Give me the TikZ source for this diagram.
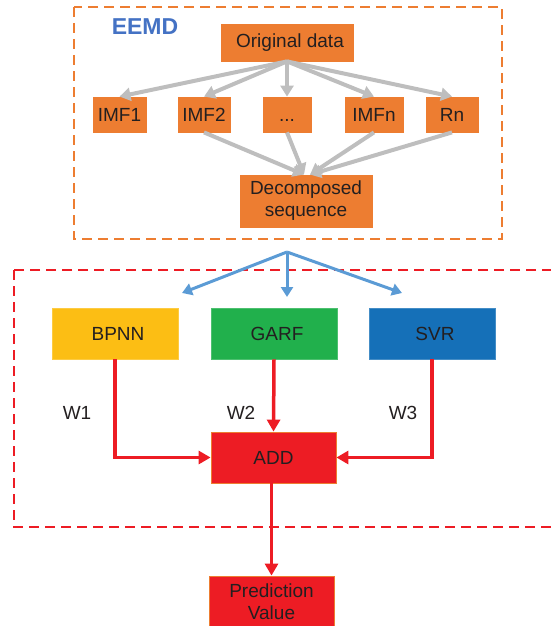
\documentclass[tikz,border=0pt]{standalone}
\usepackage{fontspec}
\setmainfont{Liberation Sans}
\usetikzlibrary{arrows.meta}
\definecolor{orng}{RGB}{237,125,49}
\definecolor{gry}{RGB}{190,190,190}
\definecolor{eblue}{RGB}{68,114,196}
\definecolor{lblue}{RGB}{91,155,213}
\definecolor{ylw}{RGB}{252,190,20}
\definecolor{grn}{RGB}{33,176,76}
\definecolor{dblue}{RGB}{21,112,184}
\definecolor{rd}{RGB}{237,28,36}
\definecolor{txt}{RGB}{35,31,32}
\tikzset{
  box/.style = {draw, line width=0.8pt, inner sep=0pt, align=center, text=txt,
    font=\fontsize{19}{22}\selectfont},
  obox/.style = {box, fill=orng, draw=orng},
  garrow/.style = {gry, line width=4pt, -{Triangle[length=11pt,width=13pt]}},
  barrow/.style = {lblue, line width=3pt, -{Triangle[length=10pt,width=12pt]}},
  rarrow/.style = {rd, line width=3.5pt, -{Triangle[length=12pt,width=13pt]}}
}
\begin{document}
\begin{tikzpicture}[x=1pt, y=-1pt]
\useasboundingbox (0,0) rectangle (551,626);
\draw[orng, line width=1.5pt, dash pattern=on 10pt off 6pt] (74,7) rectangle (502,239);
\draw[rd, line width=1.5pt, dash pattern=on 10pt off 6pt] (14,270) rectangle (570,527);
\node[eblue, font=\fontsize{23}{26}\selectfont\bfseries] (ee) at (145,27) {EEMD};
\node[obox, minimum width=132pt, minimum height=37pt] (od) at (287,42.5) {\hspace{6pt}Original data};
\node[obox, minimum width=53pt, minimum height=35pt] (imf1) at (119.5,114.5) {IMF1};
\node[obox, minimum width=52pt, minimum height=35pt] (imf2) at (204,114.5) {IMF2};
\node[obox, minimum width=48pt, minimum height=35pt] (imfd) at (287,114.5) {\vphantom{I}...};
\node[obox, minimum width=58pt, minimum height=35pt] (imfn) at (374,114.5) {IMFn};
\node[obox, minimum width=52pt, minimum height=35pt] (rn) at (452,114.5) {Rn};
\node[obox, minimum width=132pt, minimum height=52pt] (dec) at (306,201) {Decomposed\\sequence};
\node[box, fill=ylw, draw=ylw!80!white, minimum width=126pt, minimum height=51pt] (bp) at (115,333.5) {\hspace{6pt}BPNN};
\node[box, fill=grn, draw=grn!80!white, minimum width=126pt, minimum height=51pt] (ga) at (274,333.5) {\hspace{6pt}GARF};
\node[box, fill=dblue, draw=dblue!80!white, minimum width=126pt, minimum height=51pt] (sv) at (432,333.5) {\hspace{6pt}SVR};
\node[box, fill=rd, draw=orng, minimum width=125pt, minimum height=51pt] (add) at (273.5,457.5) {ADD};
\node[box, fill=rd, draw=orng, minimum width=125pt, minimum height=52pt] (pv) at (271.5,602) {Prediction\\Value};
\node[text=txt, font=\fontsize{19}{22}\selectfont] (w1) at (77,413) {W1};
\node[text=txt, font=\fontsize{19}{22}\selectfont] (w2) at (241,413) {W2};
\node[text=txt, font=\fontsize{19}{22}\selectfont] (w3) at (403,413) {W3};
\coordinate (sp) at (287,252);
\coordinate (bpin) at (182,293);
\coordinate (gain) at (287,297);
\coordinate (svin) at (402,293);
\draw[garrow] (od.south) -- (imf1.north);
\draw[garrow] (od.south) -- (imf2.north);
\draw[garrow] (od.south) -- (imfd.north);
\draw[garrow] (od.south) -- (imfn.north);
\draw[garrow] (od.south) -- (rn.north);
\draw[garrow] (imf2.south) -- ([xshift=-2pt]dec.north);
\draw[garrow] (imfd.south) -- ([xshift=-2pt]dec.north);
\draw[garrow] (imfn.south) -- ([xshift=4pt]dec.north);
\draw[garrow] (rn.south) -- ([xshift=4pt]dec.north);
\draw[barrow] (sp) -- (bpin);
\draw[barrow] (sp) -- (gain);
\draw[barrow] (sp) -- (svin);
\draw[rarrow] (bp.south) |- (add.west);
\draw[rarrow] (ga.south) -- (add.north);
\draw[rarrow] (sv.south) |- (add.east);
\draw[rarrow] ([xshift=-2pt]add.south) -- (pv.north);
\end{tikzpicture}
\end{document}
